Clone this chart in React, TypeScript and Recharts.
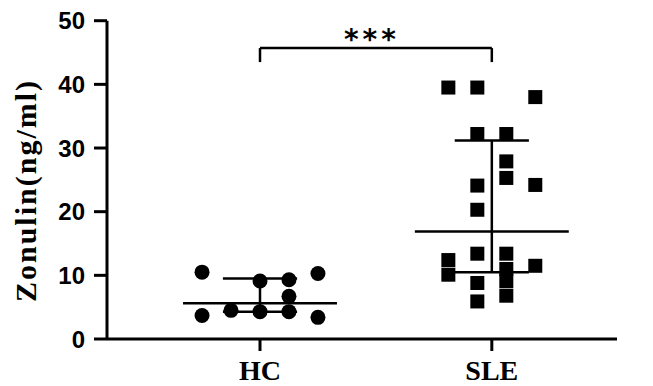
import { ComposedChart, ReferenceLine, Scatter, XAxis, YAxis } from "recharts";

const groups = ["HC", "SLE"];
const groupPos = [1, 2];

const hcValues = [10.5, 10.3, 9.1, 9.3, 6.7, 3.7, 4.5, 4.3, 4.3, 3.4];
const hcSlots = [-2, 2, 0, 1, 1, -2, -1, 0, 1, 2];

const sleValues = [
  39.5, 39.5, 38.0, 32.2, 32.2, 27.9, 25.3, 24.1, 24.2, 20.3, 13.4, 13.4, 12.4,
  11.5, 11.0, 10.1, 9.1, 8.8, 6.8, 5.9,
];
const sleSlots = [
  -1.5, -0.5, 1.5, -0.5, 0.5, 0.5, 0.5, -0.5, 1.5, -0.5, -0.5, 0.5, -1.5, 1.5,
  0.5, -1.5, 0.5, -0.5, 0.5, -0.5,
];

// median, lower bar, upper bar
const hcSummary = [5.6, 4.3, 9.5];
const sleSummary = [16.9, 10.5, 31.2];

const yTicks = [0, 10, 20, 30, 40, 50];
const bracketLevels = [43.5, 45.7];
const significance = "***";

const SLOT = 0.125;
const MEDIAN_HALF = 0.332;
const CAP_HALF = 0.16;

const hcData = hcValues.map((y, i) => ({ x: groupPos[0] + hcSlots[i] * SLOT, y }));
const sleData = sleValues.map((y, i) => ({ x: groupPos[1] + sleSlots[i] * SLOT, y }));

const Dot = (p: any) => <circle cx={p.cx} cy={p.cy} r={7.5} fill="#000" />;
const Square = (p: any) => (
  <rect x={p.cx - 7} y={p.cy - 7} width={14} height={14} fill="#000" />
);

const line = { stroke: "#000", strokeWidth: 2.5, ifOverflow: "visible" as const };

function summaryLines(pos: number, s: number[], key: string) {
  const [med, lo, hi] = s;
  return [
    <ReferenceLine key={key + "m"} segment={[{ x: pos - MEDIAN_HALF, y: med }, { x: pos + MEDIAN_HALF, y: med }]} {...line} />,
    <ReferenceLine key={key + "v"} segment={[{ x: pos, y: lo }, { x: pos, y: hi }]} {...line} />,
    <ReferenceLine key={key + "l"} segment={[{ x: pos - CAP_HALF, y: lo }, { x: pos + CAP_HALF, y: lo }]} {...line} />,
    <ReferenceLine key={key + "h"} segment={[{ x: pos - CAP_HALF, y: hi }, { x: pos + CAP_HALF, y: hi }]} {...line} />,
  ];
}

const StarLabel = (p: any) => {
  const vb = p.viewBox || {};
  const cx = (vb.x ?? 0) + (vb.width ?? 0) / 2;
  const cy = vb.y ?? 0;
  return (
    <text
      x={cx - 4}
      y={cy + 1}
      textAnchor="middle"
      fontFamily="DejaVu Sans"
      fontWeight={700}
      fontSize={28}
      letterSpacing={4}
      fill="#000"
    >
      {significance}
    </text>
  );
};

const YLabel = () => (
  <text
    x={35.5}
    y={190.5}
    transform="rotate(-90 35.5 190.5)"
    textAnchor="middle"
    fontFamily="Liberation Serif"
    fontWeight={700}
    fontSize={30}
    letterSpacing={2}
    fill="#000"
  >
    Zonulin(ng/ml)
  </text>
);

export default function App() {
  const [lo, hi] = bracketLevels;
  return (
    <div style={{ position: "absolute", left: 0, top: 0, background: "#fff" }}>
      <ComposedChart
        width={653}
        height={386}
        margin={{ top: 20.7, right: 36, bottom: 0, left: 0 }}
      >
        <XAxis
          type="number"
          dataKey="x"
          domain={[0.34, 2.54]}
          allowDataOverflow
          ticks={groupPos}
          interval={0}
          tickFormatter={(v: number) => groups[groupPos.indexOf(v)] ?? ""}
          height={47}
          tickSize={12}
          tickMargin={9}
          axisLine={{ stroke: "#000", strokeWidth: 3 }}
          tickLine={{ stroke: "#000", strokeWidth: 3 }}
          tick={{ fontSize: 28, fontWeight: 700, fontFamily: "Liberation Serif", fill: "#000" }}
        />
        <YAxis
          type="number"
          dataKey="y"
          domain={[0, 50]}
          ticks={yTicks}
          interval={0}
          width={107}
          tickSize={13}
          tickMargin={9}
          axisLine={{ stroke: "#000", strokeWidth: 3 }}
          tickLine={{ stroke: "#000", strokeWidth: 3 }}
          tick={{ fontSize: 24, fontWeight: 700, fontFamily: "Liberation Sans", fill: "#000" }}
          label={{ content: YLabel }}
        />
        {summaryLines(groupPos[0], hcSummary, "hc")}
        {summaryLines(groupPos[1], sleSummary, "sle")}
        <ReferenceLine segment={[{ x: groupPos[0], y: lo }, { x: groupPos[0], y: hi }]} {...line} />
        <ReferenceLine segment={[{ x: groupPos[1], y: lo }, { x: groupPos[1], y: hi }]} {...line} />
        <ReferenceLine
          segment={[{ x: groupPos[0], y: hi }, { x: groupPos[1], y: hi }]}
          {...line}
          label={{ content: StarLabel }}
        />
        <Scatter data={hcData} shape={Dot} isAnimationActive={false} />
        <Scatter data={sleData} shape={Square} isAnimationActive={false} />
      </ComposedChart>
    </div>
  );
}
